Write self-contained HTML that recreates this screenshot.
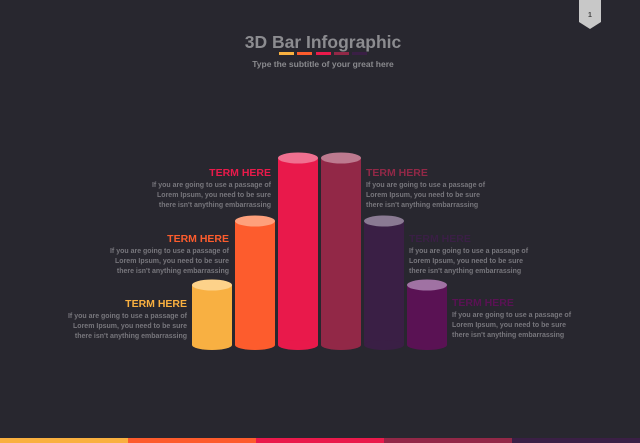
<!DOCTYPE html>
<html><head><meta charset="utf-8"><style>
body{margin:0;background:#28272f;}
svg{display:block;font-family:"Liberation Sans",sans-serif;font-weight:bold;}
</style></head><body>
<svg width="640" height="443" viewBox="0 0 640 443">
<rect width="640" height="443" fill="#28272f"/>
<polygon points="579,0 601,0 601,22 590,29 579,22" fill="#c8c8c8"/>
<text x="590" y="17" font-size="7" fill="#444" text-anchor="middle">1</text>
<text x="323" y="48" font-size="17.5" fill="#8c8c90" text-anchor="middle">3D Bar Infographic</text>
<rect x="279" y="52" width="15" height="3" fill="#f9b040"/>
<rect x="297" y="52" width="15" height="3" fill="#fd5c2d"/>
<rect x="316" y="52" width="15" height="3" fill="#ea1a4b"/>
<rect x="334" y="52" width="15" height="3" fill="#922847"/>
<rect x="352" y="52" width="15" height="3" fill="#3a1f45"/>
<text x="323" y="67" font-size="8.5" fill="#8a8a8e" text-anchor="middle">Type the subtitle of your great here</text>

<g>
<rect x="192" y="285" width="40" height="60" fill="#f8b042"/><ellipse cx="212" cy="345" rx="20" ry="5" fill="#f8b042"/><ellipse cx="212" cy="285" rx="20" ry="5.5" fill="#fdd28a"/>
<rect x="235" y="221" width="40" height="124" fill="#fd5c2d"/><ellipse cx="255" cy="345" rx="20" ry="5" fill="#fd5c2d"/><ellipse cx="255" cy="221" rx="20" ry="5.5" fill="#fea07c"/>
<rect x="278" y="158" width="40" height="187" fill="#e9194b"/><ellipse cx="298" cy="345" rx="20" ry="5" fill="#e9194b"/><ellipse cx="298" cy="158" rx="20" ry="5.5" fill="#f07090"/>
<rect x="321" y="158" width="40" height="187" fill="#922847"/><ellipse cx="341" cy="345" rx="20" ry="5" fill="#922847"/><ellipse cx="341" cy="158" rx="20" ry="5.5" fill="#bd7a8f"/>
<rect x="364" y="221" width="40" height="124" fill="#3a1f45"/><ellipse cx="384" cy="345" rx="20" ry="5" fill="#3a1f45"/><ellipse cx="384" cy="221" rx="20" ry="5.5" fill="#8a7a93"/>
<rect x="407" y="285" width="40" height="60" fill="#5a1254"/><ellipse cx="427" cy="345" rx="20" ry="5" fill="#5a1254"/><ellipse cx="427" cy="285" rx="20" ry="5.5" fill="#a072a3"/>
</g>

<g font-size="10.5">
<text x="271" y="176" fill="#ea1a4b" text-anchor="end">TERM HERE</text>
<text x="229" y="242" fill="#fd5c2d" text-anchor="end">TERM HERE</text>
<text x="187" y="307" fill="#f9b040" text-anchor="end">TERM HERE</text>
<text x="366" y="176" fill="#922847">TERM HERE</text>
<text x="409" y="242" fill="#3a1f45">TERM HERE</text>
<text x="452" y="306" fill="#5a1254">TERM HERE</text>
</g>
<g font-size="7" fill="#77767c">
<text x="271" y="187" text-anchor="end">If you are going to use a passage of</text>
<text x="271" y="197" text-anchor="end">Lorem Ipsum, you need to be sure</text>
<text x="271" y="207" text-anchor="end">there isn't anything embarrassing</text>
<text x="229" y="253" text-anchor="end">If you are going to use a passage of</text>
<text x="229" y="263" text-anchor="end">Lorem Ipsum, you need to be sure</text>
<text x="229" y="273" text-anchor="end">there isn't anything embarrassing</text>
<text x="187" y="318" text-anchor="end">If you are going to use a passage of</text>
<text x="187" y="328" text-anchor="end">Lorem Ipsum, you need to be sure</text>
<text x="187" y="338" text-anchor="end">there isn't anything embarrassing</text>
<text x="366" y="187">If you are going to use a passage of</text>
<text x="366" y="197">Lorem Ipsum, you need to be sure</text>
<text x="366" y="207">there isn't anything embarrassing</text>
<text x="409" y="253">If you are going to use a passage of</text>
<text x="409" y="263">Lorem Ipsum, you need to be sure</text>
<text x="409" y="273">there isn't anything embarrassing</text>
<text x="452" y="317">If you are going to use a passage of</text>
<text x="452" y="327">Lorem Ipsum, you need to be sure</text>
<text x="452" y="337">there isn't anything embarrassing</text>
</g>

<rect x="0" y="438" width="128" height="5" fill="#f9b040"/>
<rect x="128" y="438" width="128" height="5" fill="#fd5c2d"/>
<rect x="256" y="438" width="128" height="5" fill="#ea1a4b"/>
<rect x="384" y="438" width="128" height="5" fill="#922847"/>
<rect x="512" y="438" width="128" height="5" fill="#3a1f45"/>
</svg>
</body></html>
